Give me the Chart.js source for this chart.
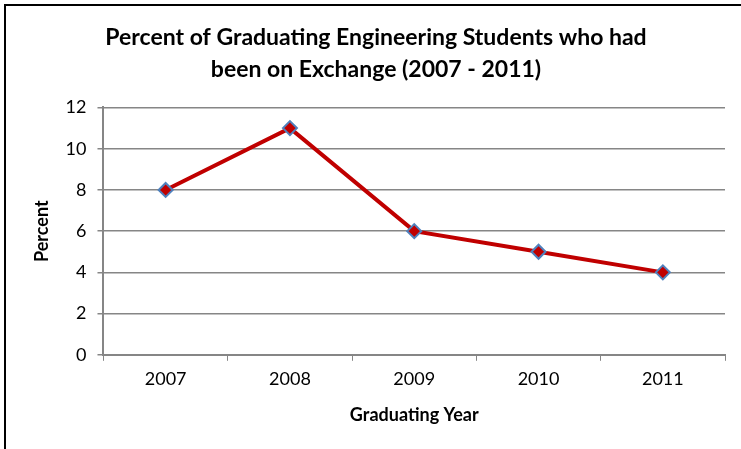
<!DOCTYPE html>
<html>
<head>
<meta charset="utf-8">
<script src="https://cdn.jsdelivr.net/npm/chart.js@4.4.0/dist/chart.umd.min.js"></script>
<style>
  html, body { margin: 0; padding: 0; background: #fff; overflow: hidden; }
  #wrap { position: relative; width: 741px; height: 449px; }
  #frame { position: absolute; left: 4px; top: 4px; width: 800px; height: 500px;
           border-left: 2.5px solid #000; border-top: 2.5px solid #000; }
  canvas { position: absolute; left: 0; top: 0; }
</style>
</head>
<body>
<div id="wrap">
  <div id="frame"></div>
  <canvas id="myChart" width="741" height="449"></canvas>
</div>
<script>
// data
var years = ["2007", "2008", "2009", "2010", "2011"];
var percent = [8, 11, 6, 5, 4];
var titleLines = ["Percent of Graduating Engineering Students who had", "been on Exchange (2007 - 2011)"];

var fontFam = "Lato, 'Open Sans', sans-serif";

new Chart("myChart", {
  type: "line",
  data: {
    labels: years,
    datasets: [{
      data: percent,
      borderColor: "#C00000",
      borderWidth: 4,
      backgroundColor: "#C00000",
      pointStyle: "rectRot",
      pointRadius: 7,
      pointBorderColor: "#4F81BD",
      pointBorderWidth: 2,
      pointBackgroundColor: "#C00000",
      tension: 0,
      fill: false
    }]
  },
  options: {
    responsive: false,
    animation: false,
    layout: { padding: { left: 27, right: 16, top: 14, bottom: 19 } },
    plugins: {
      legend: { display: false },
      tooltip: { enabled: false },
      title: {
        display: true,
        text: titleLines,
        color: "#000",
        font: { family: fontFam, size: 23, weight: "bold", lineHeight: 1.38 },
        padding: { top: 8, bottom: 22 }
      }
    },
    scales: {
      x: {
        offset: true,
        grid: { offset: true, drawOnChartArea: false, drawTicks: true, tickLength: 6, color: "#868686" },
        border: { color: "#868686", width: 2 },
        ticks: { color: "#000", font: { family: fontFam, size: 18 }, padding: 8 },
        title: { display: true, text: "Graduating Year", color: "#000",
                 font: { family: fontFam, size: 18, weight: "bold" }, padding: { top: 6 } }
      },
      y: {
        min: 0, max: 12,
        ticks: { stepSize: 2, color: "#000", font: { family: fontFam, size: 18 }, padding: 11 },
        grid: { color: "#868686", lineWidth: 1.5, tickLength: 6 },
        border: { color: "#868686", width: 2 },
        title: { display: true, text: "Percent", color: "#000",
                 font: { family: fontFam, size: 18, weight: "bold" }, padding: { bottom: 2 } }
      }
    }
  }
});
</script>
</body>
</html>
